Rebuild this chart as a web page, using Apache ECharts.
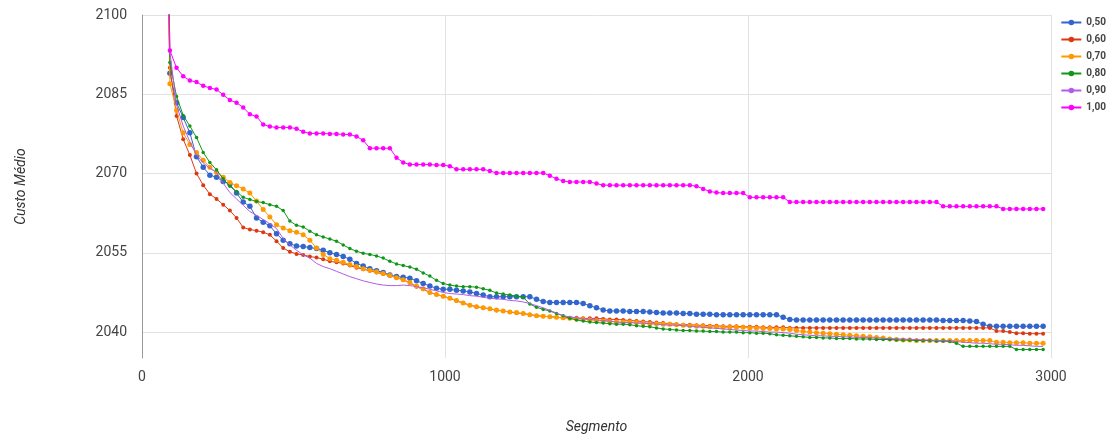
<!DOCTYPE html>
<html>
<head>
<meta charset="utf-8">
<script src="https://cdn.jsdelivr.net/npm/echarts@6/dist/echarts.min.js"></script>
<style>
  html, body { margin: 0; padding: 0; background: #ffffff; }
  #chart { width: 1110px; height: 439px; }
</style>
</head>
<body>
<div id="chart"></div>
<script>
// Segment numbers at which the average cost was sampled
const segmentos = [80,
  92, 114, 136, 158, 180, 202, 224, 246, 268, 290,
  312, 334, 356, 378, 400, 422, 444, 466, 488, 510,
  532, 554, 576, 598, 620, 642, 664, 686, 708, 730,
  752, 774, 796, 818, 840, 862, 884, 906, 928, 950,
  972, 994, 1016, 1038, 1060, 1082, 1104, 1126, 1148, 1170,
  1192, 1214, 1236, 1258, 1280, 1302, 1324, 1346, 1368, 1390,
  1412, 1434, 1456, 1478, 1500, 1522, 1544, 1566, 1588, 1610,
  1632, 1654, 1676, 1698, 1720, 1742, 1764, 1786, 1808, 1830,
  1852, 1874, 1896, 1918, 1940, 1962, 1984, 2006, 2028, 2050,
  2072, 2094, 2116, 2138, 2160, 2182, 2204, 2226, 2248, 2270,
  2292, 2314, 2336, 2358, 2380, 2402, 2424, 2446, 2468, 2490,
  2512, 2534, 2556, 2578, 2600, 2622, 2644, 2666, 2688, 2710,
  2732, 2754, 2776, 2798, 2820, 2842, 2864, 2886, 2908, 2930,
  2952, 2974];

const custo050 = [
  2130, 2089, 2083.4, 2080.6, 2077.7, 2073.2, 2071.2, 2069.7, 2069.3, 2068.5,
  2068, 2066.3, 2064.6, 2063.8, 2061.6, 2060.8, 2060.1, 2058.6, 2057.4, 2056.7,
  2056.3, 2056.2, 2056.0, 2055.8, 2055.5, 2055, 2054.7, 2054.3, 2053.8, 2053,
  2052.5, 2052, 2051.6, 2051.3, 2050.8, 2050.5, 2050.4, 2050.2, 2049.7, 2049.2,
  2048.7, 2048.3, 2048.1, 2048.1, 2047.9, 2047.8, 2047.6, 2047.3, 2047, 2046.7,
  2046.7, 2046.7, 2046.7, 2046.7, 2046.7, 2046.7, 2046.2, 2045.8, 2045.6, 2045.6,
  2045.6, 2045.6, 2045.6, 2045.4, 2045, 2044.6, 2044.2, 2044, 2044, 2044,
  2043.9, 2043.9, 2043.9, 2043.8, 2043.7, 2043.6, 2043.6, 2043.6, 2043.5, 2043.5,
  2043.4, 2043.4, 2043.4, 2043.3, 2043.3, 2043.3, 2043.3, 2043.3, 2043.3, 2043.3,
  2043.3, 2043.3, 2043.3, 2042.8, 2042.4, 2042.3, 2042.3, 2042.3, 2042.3, 2042.3,
  2042.3, 2042.3, 2042.3, 2042.3, 2042.3, 2042.3, 2042.3, 2042.3, 2042.3, 2042.3,
  2042.3, 2042.3, 2042.3, 2042.3, 2042.3, 2042.3, 2042.3, 2042.2, 2042.2, 2042.2,
  2042.2, 2042.1, 2042, 2041.5, 2041.1, 2041.1, 2041.1, 2041.1, 2041.1, 2041.1,
  2041.1, 2041.1, 2041.1];

const custo060 = [
  2128, 2090, 2080.9, 2076.5, 2073.5, 2070, 2067.8, 2066.1, 2065.2, 2064.1,
  2063, 2061.6, 2059.8, 2059.4, 2059.2, 2058.9, 2058.4, 2057.2, 2055.9, 2055.2,
  2054.8, 2054.6, 2054.3, 2054.1, 2053.8, 2053.4, 2053.2, 2053, 2052.6, 2052.2,
  2051.9, 2051.6, 2051.3, 2051, 2050.7, 2050.3, 2049.9, 2049.3, 2048.6, 2048.1,
  2047.5, 2047.1, 2046.8, 2046.4, 2045.9, 2045.5, 2045.1, 2044.8, 2044.6, 2044.4,
  2044.1, 2044, 2043.8, 2043.6, 2043.5, 2043.3, 2043.1, 2043, 2042.9, 2042.8,
  2042.7, 2042.7, 2042.7, 2042.6, 2042.6, 2042.6, 2042.5, 2042.4, 2042.4, 2042.3,
  2042.2, 2042.1, 2042, 2041.9, 2041.8, 2041.7, 2041.6, 2041.5, 2041.4, 2041.4,
  2041.3, 2041.3, 2041.2, 2041.2, 2041.1, 2041.1, 2041.1, 2041, 2041, 2041,
  2040.9, 2040.9, 2040.9, 2040.9, 2040.8, 2040.8, 2040.8, 2040.8, 2040.8, 2040.8,
  2040.8, 2040.8, 2040.8, 2040.8, 2040.8, 2040.8, 2040.8, 2040.8, 2040.8, 2040.8,
  2040.8, 2040.8, 2040.8, 2040.8, 2040.8, 2040.8, 2040.8, 2040.8, 2040.8, 2040.8,
  2040.8, 2040.8, 2040.8, 2040.8, 2040.8, 2040.2, 2040.2, 2040, 2039.8, 2039.8,
  2039.7, 2039.7, 2039.7];

const custo070 = [
  2125, 2087, 2082, 2077.7, 2075.5, 2074, 2072.5, 2071.2, 2070.2, 2069.3,
  2068.3, 2067.7, 2067.1, 2066.3, 2064.8, 2063.2, 2061.8, 2060.3, 2059.7, 2059.2,
  2058.9, 2058.4, 2057.4, 2055.9, 2054.7, 2053.9, 2053.6, 2053.2, 2052.8, 2052.4,
  2052, 2051.7, 2051.4, 2051.1, 2050.7, 2050.3, 2049.9, 2049.4, 2048.7, 2048.2,
  2047.5, 2047.1, 2046.8, 2046.4, 2046, 2045.5, 2045.1, 2044.8, 2044.6, 2044.4,
  2044.2, 2044, 2043.8, 2043.7, 2043.5, 2043.3, 2043.1, 2043, 2042.9, 2042.8,
  2042.7, 2042.6, 2042.5, 2042.4, 2042.3, 2042.2, 2042.1, 2042, 2041.9, 2041.9,
  2041.9, 2041.8, 2041.7, 2041.6, 2041.6, 2041.5, 2041.5, 2041.4, 2041.3, 2041.2,
  2041.1, 2041.1, 2041, 2041, 2040.9, 2040.9, 2040.9, 2040.9, 2040.8, 2040.8,
  2040.7, 2040.7, 2040.6, 2040.6, 2040.5, 2040.3, 2040.1, 2040, 2039.9, 2039.8,
  2039.7, 2039.6, 2039.5, 2039.4, 2039.3, 2039.2, 2039.1, 2039, 2038.9, 2038.7,
  2038.6, 2038.5, 2038.5, 2038.4, 2038.4, 2038.4, 2038.4, 2038.4, 2038.4, 2038.4,
  2038.4, 2038.4, 2038.4, 2038.4, 2038.4, 2038.1, 2038.1, 2038, 2038, 2038,
  2037.9, 2037.9, 2037.9];

const custo080 = [
  2132, 2091, 2084.6, 2081, 2079, 2076.8, 2074, 2072.1, 2070.7, 2069,
  2067.6, 2066.6, 2065.5, 2065.1, 2064.7, 2064.5, 2064.1, 2063.8, 2063, 2061,
  2060.2, 2059.9, 2059.1, 2058.4, 2058, 2057.6, 2057.2, 2056.5, 2055.8, 2055.3,
  2054.9, 2054.7, 2054.4, 2054, 2053.4, 2052.9, 2052.6, 2052.3, 2051.9, 2051.2,
  2050.6, 2049.8, 2049.2, 2048.9, 2048.7, 2048.6, 2048.6, 2048.5, 2048.2, 2047.9,
  2047.4, 2047.2, 2047, 2046.8, 2046.6, 2045.3, 2044.7, 2044.3, 2044, 2043.5,
  2043.1, 2042.6, 2042.3, 2042.1, 2041.9, 2041.8, 2041.7, 2041.6, 2041.5, 2041.5,
  2041.4, 2041.2, 2041.1, 2041, 2040.8, 2040.6, 2040.5, 2040.4, 2040.3, 2040.3,
  2040.2, 2040.2, 2040.1, 2040.1, 2040, 2040, 2040, 2039.9, 2039.9, 2039.8,
  2039.8, 2039.7, 2039.5, 2039.4, 2039.3, 2039.2, 2039.1, 2039, 2039, 2038.9,
  2038.9, 2038.8, 2038.8, 2038.8, 2038.7, 2038.7, 2038.7, 2038.6, 2038.6, 2038.6,
  2038.5, 2038.5, 2038.5, 2038.4, 2038.4, 2038.4, 2038.3, 2038.3, 2038.2, 2037.9,
  2037.3, 2037.3, 2037.3, 2037.3, 2037.3, 2037.3, 2037.3, 2037.3, 2036.7, 2036.7,
  2036.7, 2036.7, 2036.7];

const custo090 = [
  2135, 2093, 2083, 2079, 2076, 2073.5, 2072, 2071, 2070.2, 2068.2,
  2066.4, 2065.2, 2064, 2062.8, 2062.1, 2061.3, 2060.5, 2059.6, 2057.7, 2056.5,
  2055.5, 2054.6, 2054, 2053, 2052.4, 2052, 2051.5, 2051.0, 2050.5, 2050.1,
  2049.7, 2049.4, 2049.1, 2048.9, 2048.8, 2048.8, 2048.9, 2048.8, 2048.6, 2048.4,
  2048.1, 2047.8, 2047.5, 2047.3, 2047.2, 2047.1, 2046.9, 2046.8, 2046.6, 2046.4,
  2046.3, 2046.2, 2046, 2045.9, 2045.7, 2045.4, 2045, 2044.6, 2044.1, 2043.6,
  2043.1, 2042.9, 2042.7, 2042.5, 2042.4, 2042.3, 2042.2, 2042.1, 2041.9, 2041.8,
  2041.8, 2041.7, 2041.7, 2041.6, 2041.5, 2041.4, 2041.3, 2041.3, 2041.2, 2041.1,
  2041, 2040.9, 2040.8, 2040.7, 2040.6, 2040.5, 2040.4, 2040.3, 2040.2, 2040.2,
  2040.1, 2040, 2040, 2039.9, 2039.8, 2039.6, 2039.5, 2039.4, 2039.3, 2039.3,
  2039.2, 2039.2, 2039.1, 2039.1, 2039, 2039, 2038.9, 2038.9, 2038.8, 2038.8,
  2038.7, 2038.7, 2038.6, 2038.6, 2038.5, 2038.5, 2038.4, 2038.4, 2038.3, 2038.2,
  2038.1, 2038, 2037.9, 2037.9, 2037.8, 2037.7, 2037.7, 2037.6, 2037.5, 2037.5,
  2037.4, 2037.3, 2037.3];

const custo100 = [
  2140, 2093.3, 2090, 2088.4, 2087.6, 2087.3, 2086.6, 2086.2, 2085.9, 2084.9,
  2083.9, 2083.4, 2082.5, 2081.2, 2080.8, 2079.3, 2078.9, 2078.7, 2078.7, 2078.7,
  2078.5, 2077.9, 2077.6, 2077.6, 2077.6, 2077.5, 2077.5, 2077.4, 2077.4, 2077,
  2076.3, 2074.8, 2074.8, 2074.8, 2074.8, 2073, 2072.1, 2071.7, 2071.7, 2071.7,
  2071.7, 2071.6, 2071.6, 2071.4, 2070.8, 2070.8, 2070.8, 2070.8, 2070.8, 2070.5,
  2070.1, 2070.1, 2070.1, 2070.1, 2070.1, 2070.1, 2070.1, 2070.1, 2069.6, 2069,
  2068.6, 2068.4, 2068.4, 2068.4, 2068.4, 2068.1, 2067.8, 2067.8, 2067.8, 2067.8,
  2067.8, 2067.8, 2067.8, 2067.8, 2067.8, 2067.8, 2067.8, 2067.8, 2067.8, 2067.8,
  2067.6, 2067.1, 2066.6, 2066.4, 2066.3, 2066.3, 2066.3, 2066.3, 2065.5, 2065.5,
  2065.5, 2065.5, 2065.5, 2065.5, 2064.6, 2064.6, 2064.6, 2064.6, 2064.6, 2064.6,
  2064.6, 2064.6, 2064.6, 2064.6, 2064.6, 2064.6, 2064.6, 2064.6, 2064.6, 2064.6,
  2064.6, 2064.6, 2064.6, 2064.6, 2064.6, 2064.6, 2064.6, 2063.8, 2063.8, 2063.8,
  2063.8, 2063.8, 2063.8, 2063.8, 2063.8, 2063.8, 2063.3, 2063.3, 2063.3, 2063.3,
  2063.3, 2063.3, 2063.3];

const rotulos = ['0,50', '0,60', '0,70', '0,80', '0,90', '1,00'];
const valores = [custo050, custo060, custo070, custo080, custo090, custo100];
const cores = ['#3366cc', '#dc3912', '#ff9900', '#109618', '#b35ce6', '#ff00ff'];
const tamanhos = [5.5, 4, 5, 3.5, 2, 4.5];
const ticksY = [2040, 2055, 2070, 2085, 2100];

const fonte = 'Roboto, Arial, sans-serif';

const series = rotulos.map((nome, k) => ({
  name: nome,
  type: 'line',
  data: segmentos.map((s, i) => [s, valores[k][i]]),
  symbol: 'circle',
  symbolSize: tamanhos[k],
  showSymbol: k !== 4,
  lineStyle: { width: 1, color: cores[k] },
  itemStyle: { color: cores[k] },
  clip: true,
  z: 2 + k
}));

const chart = echarts.init(document.getElementById('chart'), null, { renderer: 'canvas' });
chart.setOption({
  animation: false,
  backgroundColor: '#ffffff',
  color: cores,
  grid: { left: 142, right: 59, top: 15, bottom: 79 },
  legend: {
    orient: 'vertical',
    right: 4,
    top: 14,
    padding: 0,
    itemWidth: 20,
    itemHeight: 7,
    itemGap: 0,
    textStyle: { fontFamily: fonte, fontSize: 10, fontWeight: 'bold', color: '#444', lineHeight: 17, height: 17 },
    data: rotulos
  },
  xAxis: {
    type: 'value',
    min: 0,
    max: 3000,
    interval: 1000,
    name: 'Segmento',
    nameLocation: 'middle',
    nameGap: 62,
    nameTextStyle: { fontFamily: fonte, fontSize: 14, fontStyle: 'italic', color: '#333' },
    axisLine: { show: false },
    axisTick: { show: false },
    axisLabel: { fontFamily: fonte, fontSize: 14, color: '#444', margin: 12, formatter: v => String(v) },
    splitLine: { show: true, lineStyle: { color: '#e2e2e2', width: 1 } }
  },
  yAxis: {
    type: 'value',
    min: 2035.1,
    max: 2100,
    name: 'Custo Médio',
    nameLocation: 'middle',
    nameGap: 114,
    nameTextStyle: { fontFamily: fonte, fontSize: 14, fontStyle: 'italic', color: '#333' },
    axisLine: { show: true, lineStyle: { color: '#9a9a9a', width: 1 } },
    axisTick: { show: false, customValues: ticksY },
    axisLabel: { fontFamily: fonte, fontSize: 14, color: '#444', margin: 15, customValues: ticksY, formatter: v => String(v) },
    splitLine: { show: true, lineStyle: { color: '#e2e2e2', width: 1 } }
  },
  series: series
});
</script>
</body>
</html>
